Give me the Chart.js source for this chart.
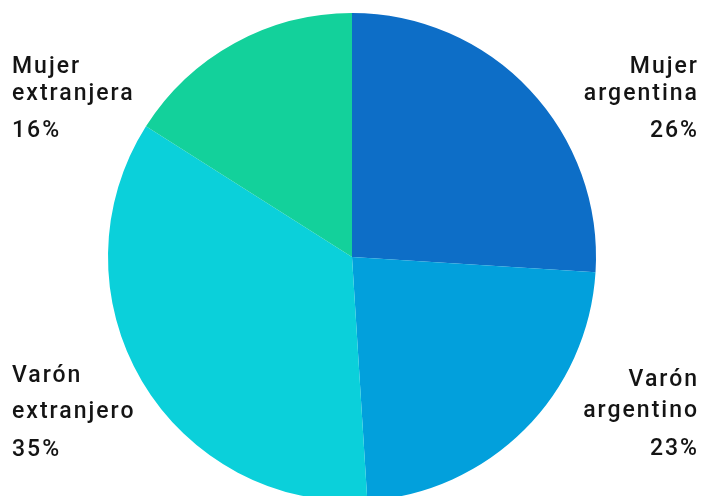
<!DOCTYPE html>
<html>
<head>
<meta charset="utf-8">
<script src="https://cdn.jsdelivr.net/npm/chart.js@4/dist/chart.umd.min.js"></script>
<style>
  html, body { margin: 0; padding: 0; background: #fff; overflow: hidden; }
  #wrap { width: 702px; height: 510px; position: relative; }
</style>
</head>
<body>
<div id="wrap"><canvas id="graph"></canvas></div>
<script>
// datos
const categorias = ["Mujer argentina", "Varón argentino", "Varón extranjero", "Mujer extranjera"];
const valores = [26, 23, 35, 16];
const colores = ["#0d6ec7", "#02a0dc", "#0bd0da", "#13d19b"];

// etiquetas en las esquinas (líneas de texto)
const etiquetas = [
  ["Mujer", "argentina"],
  ["Varón", "argentino"],
  ["Varón", "extranjero"],
  ["Mujer", "extranjera"],
];

const esquinas = {
  id: "esquinas",
  afterDraw(chart) {
    const ctx = chart.ctx;
    ctx.save();
    ctx.fillStyle = "#141414";
    ctx.font = "500 23px Roboto";
    ctx.letterSpacing = "2px";
    ctx.textBaseline = "alphabetic";
    // [x, align, baselines]
    const pos = [
      [699, "right", [73, 100, 137]],
      [699, "right", [386, 417, 455]],
      [12, "left", [382, 418, 456]],
      [12, "left", [73, 100, 137]],
    ];
    etiquetas.forEach((lineas, i) => {
      const [x, align, ys] = pos[i];
      ctx.textAlign = align;
      ctx.fillText(lineas[0], x, ys[0]);
      ctx.fillText(lineas[1], x, ys[1]);
      ctx.fillText(valores[i] + "%", x, ys[2]);
    });
    ctx.restore();
  },
};

const config = {
  type: "pie",
  data: {
    labels: categorias,
    datasets: [
      {
        data: valores,
        backgroundColor: colores,
        borderWidth: 0,
      },
    ],
  },
  options: {
    responsive: true,
    maintainAspectRatio: false,
    animation: false,
    layout: { padding: { top: 13, bottom: 9, left: 108, right: 106 } },
    plugins: {
      legend: { display: false },
      tooltip: { enabled: false },
    },
  },
  plugins: [esquinas],
};

let myChart = new Chart(document.getElementById("graph"), config);
</script>
</body>
</html>
